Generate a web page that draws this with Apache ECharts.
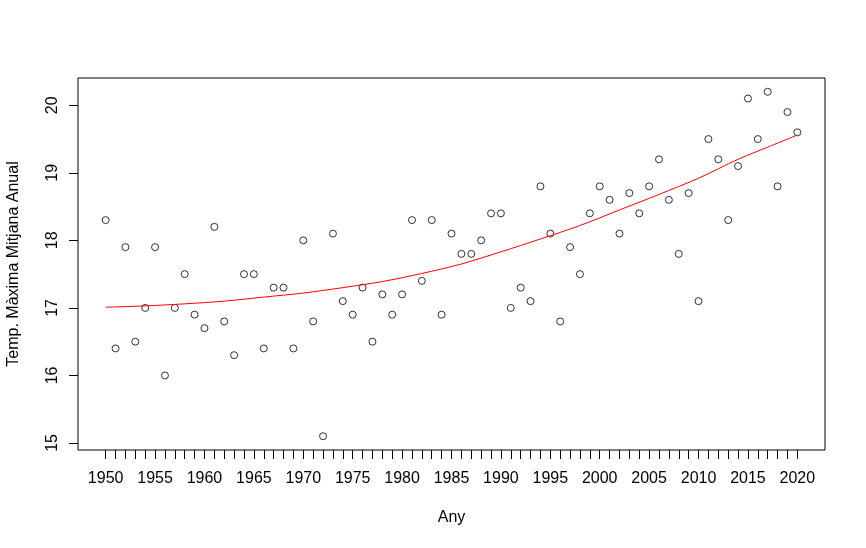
<!DOCTYPE html>
<html lang="ca">
<head>
    <meta charset="UTF-8">
    <title>Temp. Màxima Mitjana Anual</title>
    <script src="https://cdn.jsdelivr.net/npm/echarts@6/dist/echarts.min.js"></script>
    <style>
        html, body { margin: 0; padding: 0; background: #fff; }
        #chart { width: 866px; height: 548px; }
    </style>
</head>
<body>
<div id="chart"></div>
<script>
    // anys observats
    const years = [];
    for (let y = 1950; y <= 2020; y++) years.push(y);

    // temperatura màxima mitjana anual (llegida del gràfic)
    const tempMax = [
        18.3, 16.4, 17.9, 16.5, 17.0, 17.9, 16.0, 17.0, 17.5, 16.9,
        16.7, 18.2, 16.8, 16.3, 17.5, 17.5, 16.4, 17.3, 17.3, 16.4,
        18.0, 16.8, 15.1, 18.1, 17.1, 16.9, 17.3, 16.5, 17.2, 16.9,
        17.2, 18.3, 17.4, 18.3, 16.9, 18.1, 17.8, 17.8, 18.0, 18.4,
        18.4, 17.0, 17.3, 17.1, 18.8, 18.1, 16.8, 17.9, 17.5, 18.4,
        18.8, 18.6, 18.1, 18.7, 18.4, 18.8, 19.2, 18.6, 17.8, 18.7,
        17.1, 19.5, 19.2, 18.3, 19.1, 20.1, 19.5, 20.2, 18.8, 19.9,
        19.6
    ];

    // corba suavitzada (vermella), llegida del gràfic
    const smoothYears = [1950, 1954, 1958, 1962, 1966, 1970, 1974, 1978, 1982, 1986,
        1990, 1994, 1998, 2002, 2006, 2010, 2014, 2017, 2020];
    const smoothValues = [17.01, 17.03, 17.06, 17.10, 17.16, 17.22, 17.30, 17.39, 17.51, 17.65,
        17.83, 18.02, 18.22, 18.45, 18.68, 18.92, 19.20, 19.38, 19.56];

    // etiquetes dels eixos
    const xTickLabels = [1950, 1955, 1960, 1965, 1970, 1975, 1980, 1985, 1990, 1995,
        2000, 2005, 2010, 2015, 2020];
    const yTickLabels = [15, 16, 17, 18, 19, 20];

    const font = 'Liberation Sans, Arial, sans-serif';

    const chart = echarts.init(document.getElementById('chart'), null, {renderer: 'canvas'});

    chart.setOption({
        animation: false,
        backgroundColor: '#fff',
        grid: {
            left: 78, right: 41, top: 78, bottom: 98,
            outerBoundsMode: 'none',
            containLabel: false,
            show: true, borderColor: '#000', borderWidth: 1, backgroundColor: 'transparent'
        },
        xAxis: {
            type: 'value',
            min: 1947.2,
            max: 2022.8,
            name: 'Any',
            nameLocation: 'middle',
            nameGap: 60,
            nameTextStyle: {color: '#000', fontSize: 16, fontFamily: font},
            axisLine: {show: false},
            splitLine: {show: false},
            axisTick: {show: true, length: 9, lineStyle: {color: '#000', width: 1}, customValues: years},
            axisLabel: {
                color: '#000', fontSize: 16, fontFamily: font, margin: 21,
                customValues: xTickLabels,
                formatter: (v) => String(v)
            }
        },
        yAxis: {
            type: 'value',
            min: 14.896,
            max: 20.404,
            name: 'Temp. Màxima Mitjana Anual',
            nameLocation: 'middle',
            nameRotate: 90,
            nameGap: 56,
            nameTextStyle: {color: '#000', fontSize: 16, fontFamily: font},
            axisLine: {show: false},
            splitLine: {show: false},
            axisTick: {show: true, length: 9, lineStyle: {color: '#000', width: 1}, customValues: yTickLabels},
            axisLabel: {
                color: '#000', fontSize: 16, fontFamily: font, margin: 17, rotate: 90,
                customValues: yTickLabels,
                formatter: (v) => String(v)
            }
        },
        series: [
            {
                type: 'scatter',
                data: years.map((y, i) => [y, tempMax[i]]),
                symbol: 'circle',
                symbolSize: 7,
                itemStyle: {color: 'transparent', borderColor: '#000', borderWidth: 1},
                silent: true,
                z: 2
            },
            {
                type: 'line',
                data: smoothYears.map((y, i) => [y, smoothValues[i]]),
                smooth: 0.3,
                showSymbol: false,
                lineStyle: {color: '#ff0000', width: 1},
                silent: true,
                z: 3
            }
        ]
    });
</script>
</body>
</html>
